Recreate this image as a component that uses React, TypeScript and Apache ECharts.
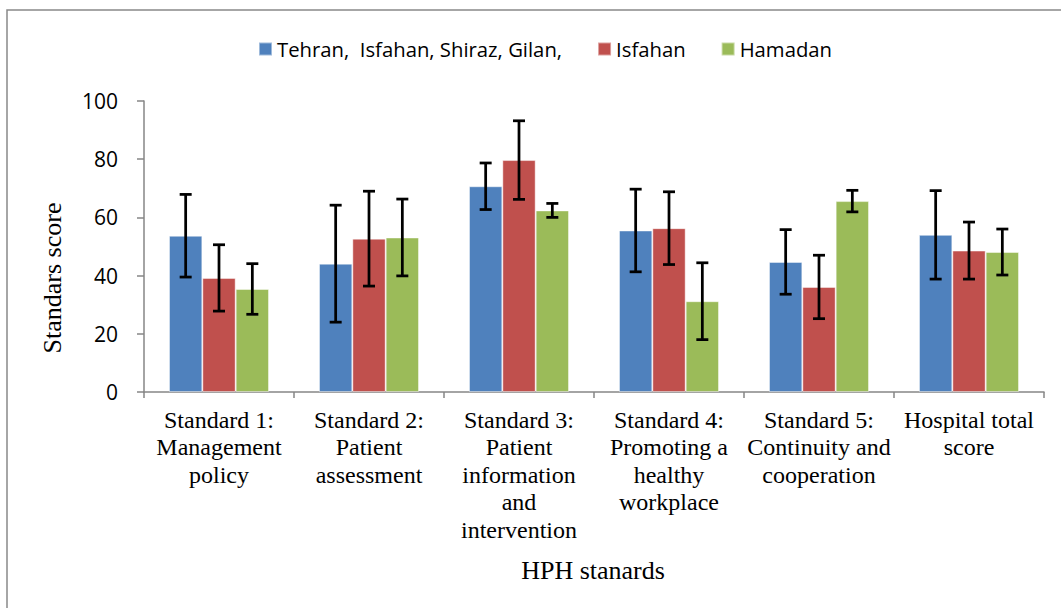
import React, { useEffect, useRef } from "react";
import * as echarts from "echarts";

const categories = [
  "Standard 1:\nManagement\npolicy",
  "Standard 2:\nPatient\nassessment",
  "Standard 3:\nPatient\ninformation\nand\nintervention",
  "Standard 4:\nPromoting a\nhealthy\nworkplace",
  "Standard 5:\nContinuity and\ncooperation",
  "Hospital total\nscore",
];
const seriesNames = ["Tehran,  Isfahan, Shiraz, Gilan,", "Isfahan", "Hamadan"];
const tehran = [53.7, 44.1, 70.7, 55.5, 44.7, 54.0];
const tehranSD = [14.2, 20.1, 8.0, 14.2, 11.1, 15.2];
const isfahan = [39.2, 52.7, 79.7, 56.3, 36.1, 48.6];
const isfahanSD = [11.4, 16.3, 13.5, 12.5, 10.9, 9.8];
const hamadan = [35.4, 53.1, 62.4, 31.2, 65.6, 48.1];
const hamadanSD = [8.7, 13.2, 2.4, 13.2, 3.7, 7.9];
const yTicks = [0, 20, 40, 60, 80, 100];
const colors = ["#4F81BD", "#C0504D", "#9BBB59"];

const values = [tehran, isfahan, hamadan];
const sds = [tehranSD, isfahanSD, hamadanSD];

export default function App() {
  const ref = useRef<HTMLDivElement>(null);
  useEffect(() => {
    document.body.style.margin = "0";
    const chart = echarts.init(ref.current!, null, { renderer: "svg" });
    const barSeries = values.map((vals, i) => ({
      name: seriesNames[i],
      type: "bar",
      data: vals,
      barGap: "0%",
      barCategoryGap: "33.33%",
      itemStyle: { color: colors[i], borderColor: "rgba(255,255,255,0.45)", borderWidth: 1 },
      z: 2,
    }));
    const errSeries = values.map((vals, i) => ({
      name: "err" + i,
      type: "custom",
      z: 5,
      data: vals.map((v, k) => [k, v - sds[i][k], v + sds[i][k]]),
      encode: { x: 0, y: [1, 2] },
      renderItem: (params: any, api: any) => {
        const idx = api.value(0);
        const lo = api.coord([idx, api.value(1)]);
        const hi = api.coord([idx, api.value(2)]);
        const band = api.size([1, 0])[0];
        const bw = (band * (1 - 0.3333)) / 3;
        const x = lo[0] + (i - 1) * bw;
        const cap = 6;
        const style = { stroke: "#000", lineWidth: 2.75 };
        return {
          type: "group",
          children: [
            { type: "line", shape: { x1: x, y1: lo[1], x2: x, y2: hi[1] }, style },
            { type: "line", shape: { x1: x - cap, y1: lo[1], x2: x + cap, y2: lo[1] }, style },
            { type: "line", shape: { x1: x - cap, y1: hi[1], x2: x + cap, y2: hi[1] }, style },
          ],
        };
      },
    }));
    chart.setOption({
      animation: false,
      backgroundColor: "#fff",
      grid: { left: 144, right: 17, top: 101, bottom: 216, containLabel: false },
      legend: {
        data: seriesNames,
        left: 253,
        top: 34,
        icon: "rect",
        itemWidth: 13,
        itemHeight: 13,
        itemGap: 35,
        textStyle: { fontFamily: "Open Sans", fontSize: 20.3, color: "#000" },
      },
      xAxis: {
        type: "category",
        data: categories,
        axisLine: { lineStyle: { color: "#868686", width: 1.5 } },
        axisTick: { show: true, length: 6, lineStyle: { color: "#868686", width: 1.5 } },
        axisLabel: {
          interval: 0,
          fontFamily: "Liberation Serif",
          fontSize: 24,
          lineHeight: 27.5,
          color: "#000",
          margin: 14,
        },
      },
      yAxis: {
        type: "value",
        min: 0,
        max: 100,
        interval: 20,
        splitLine: { show: false },
        axisLine: { show: true, lineStyle: { color: "#868686", width: 1.5 } },
        axisTick: { show: true, length: 7, lineStyle: { color: "#868686", width: 1.5 } },
        axisLabel: {
          fontFamily: "Open Sans",
          fontSize: 21,
          color: "#000",
          margin: 26,
          formatter: (v: number) => (yTicks.includes(v) ? String(v) : ""),
        },
      },
      graphic: [
        {
          type: "rect",
          shape: { x: 7, y: 10, width: 1200, height: 800 },
          style: { fill: "none", stroke: "#898989", lineWidth: 1.5 },
          silent: true,
        },
        {
          type: "text",
          x: 52,
          y: 278,
          rotation: Math.PI / 2,
          style: {
            text: "Standars score",
            fontFamily: "Liberation Serif",
            fontSize: 26,
            fill: "#000",
            align: "center",
            verticalAlign: "middle",
          },
        },
        {
          type: "text",
          x: 593,
          y: 570,
          style: {
            text: "HPH stanards",
            fontFamily: "Liberation Serif",
            fontSize: 26,
            fill: "#000",
            align: "center",
            verticalAlign: "middle",
          },
        },
      ],
      series: [...barSeries, ...errSeries],
    });
    return () => chart.dispose();
  }, []);
  return <div ref={ref} style={{ width: 1061, height: 608 }} />;
}
